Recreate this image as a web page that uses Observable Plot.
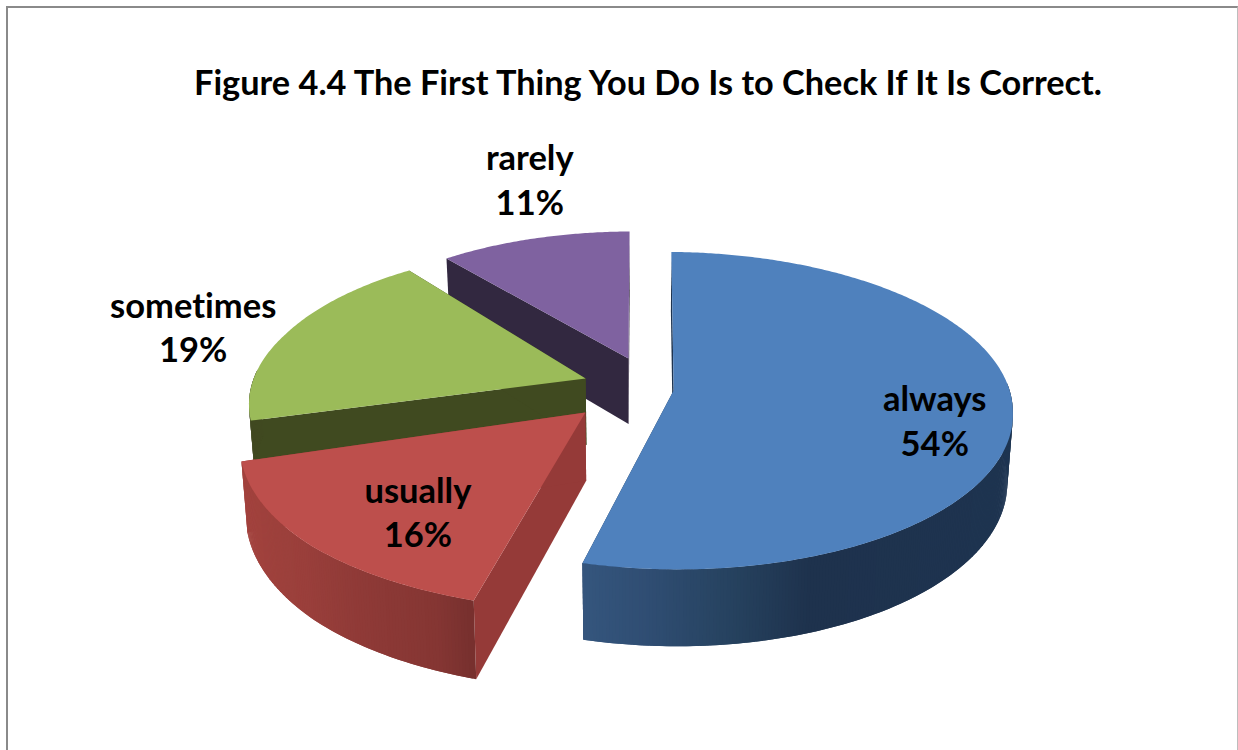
<!DOCTYPE html>
<html>
<head>
<meta charset="utf-8">
<script src="https://cdn.jsdelivr.net/npm/d3@7"></script>
<script src="https://cdn.jsdelivr.net/npm/@observablehq/plot@0.6"></script>
<style>
html,body{margin:0;padding:0;background:#fff;overflow:hidden}
#chart{position:relative;width:1238px;height:750px}
#chart svg{display:block}
#chart svg text{font-variant-ligatures:none}
#edge{position:absolute;left:6px;top:6px;width:1229px;height:760px;border-left:2px solid #8a8a8a;border-top:2px solid #8a8a8a;border-right:1px solid #bdbdbd;box-sizing:content-box;pointer-events:none}
</style>
</head>
<body>
<div id="chart"><div id="edge"></div></div>
<script>
const chartTitle = "Figure 4.4 The First Thing You Do Is to Check If It Is Correct.";
const categories = ["always", "usually", "sometimes", "rarely"];
const percents = [54, 16, 19, 11];

// styling and layout of each slice (same order as categories)
const topColors = ["#4f81bd", "#bd4f4c", "#9bbb59", "#7f62a0"];
const sideColors = ["#1e3450", "#953a38", "#404a20", "#322840"];
const wallStops = [[194.7, 184, 172, 160, 90], [254, 225, 213, 200, 194.8], [330, 254], [361, 320]];
const wallColors = [
  ["#35567e", "#2f4d72", "#26425f", "#1e324d", "#1e3552"],
  ["#a5443f", "#9a3f3b", "#8f3a37", "#853633", "#77302e"],
  ["#404a20", "#404a20"],
  ["#322840", "#322840"]
];
const explodeU = [0.157, -0.102, -0.104, 0.024];
const explodeD = [-0.032, 0.107, -0.110, -0.243];
const angleNudge = [[0.7, 0.3], [0.4, 1], [2.5, 2.5], [0.6, 0.4]];
const rimRadius = [[1.005, 0.991, 1.007], [1.05, 1.03, 1.0], [0.998, 0.98, 0.975], [0.953, 0.958, 0.964]];
const labelU = [0.907, -0.545, -1.332, -0.324];
const labelD = [0.147, 0.672, -0.472, -1.685];

// perspective of the pie plane
const persp = 0.127, depth = 0.43, taper = 0.985, taperX = 0.059;
const project = (u, d) => { const p = 1 / (1 - persp * d); return {x: u * p, y: d * p, p}; };
const lower = (pt) => ({x: taperX + (pt.x - taperX) * taper, y: pt.y + depth * pt.p});

const polygons = [];
const addPoly = (id, color, pts) => pts.forEach(q => polygons.push({poly: id, color, x: q.x, y: q.y}));

let cum = 0;
const slices = categories.map((name, i) => {
  const a0 = cum * 3.6 + angleNudge[i][0]; cum += percents[i]; const a1 = cum * 3.6 + angleNudge[i][1];
  return {name, i, a0, a1};
});

const rim = (s, f) => {
  const t = (s.a0 + (s.a1 - s.a0) * f) * Math.PI / 180;
  const r = d3.scaleLinear().domain([0, 0.5, 1]).range(rimRadius[s.i])(f);
  return project(explodeU[s.i] + r * Math.sin(t), explodeD[s.i] - r * Math.cos(t));
};

// painter's order: far slices first
[3, 2, 1, 0].forEach(i => {
  const s = slices[i];
  const apex = project(explodeU[i], explodeD[i]);
  const shade = d3.scaleLinear().domain(wallStops[i]).range(wallColors[i]).interpolate(d3.interpolateRgb).clamp(true);
  // the two straight cut walls
  [0, 1].forEach(f => {
    const R = rim(s, f);
    addPoly(`c${i}-${f}`, sideColors[i], [apex, R, lower(R), lower(apex)]);
  });
  // outer wall: viewer-facing strips, each overlapping the next so no seams show
  const n = Math.round((s.a1 - s.a0) * 2);
  for (let k = n - 1; k >= 0; k--) {
    const a = k / n, b = Math.min(1, (k + 2) / n);
    const deg = s.a0 + (s.a1 - s.a0) * (k + 0.5) / n;
    if (Math.cos(deg * Math.PI / 180) > 0.05) continue;
    const A = rim(s, a), B = rim(s, b);
    addPoly(`w${i}-${k}`, d3.rgb(shade(deg)).formatHex(), [A, B, lower(B), lower(A)]);
  }
  // the top face
  const top = [apex];
  for (let k = 0; k <= n; k++) top.push(rim(s, k / n));
  addPoly(`t${i}`, topColors[i], top);
});

const labels = slices.map(s => {
  const q = project(labelU[s.i], labelD[s.i]);
  return {x: q.x, y: q.y, text: `${s.name}\n${percents[s.i]}%`};
});

const fontFamily = "Lato, 'Open Sans', sans-serif";
const chart = Plot.plot({
  width: 1238, height: 750,
  margin: 0,
  x: {axis: null, domain: [-620 / 340, 618 / 340], range: [0, 1238]},
  y: {axis: null, domain: [-395 / 156.7, 355 / 156.7], range: [0, 750]},
  color: {type: "identity"},
  style: {background: "transparent", fontFamily},
  marks: [
    Plot.line(polygons, {x: "x", y: "y", z: "poly", fill: "color", stroke: "none", curve: "linear-closed"}),
    Plot.text(labels, {x: "x", y: "y", text: "text", fontSize: 34.5, fontWeight: 700, fill: "#000", lineHeight: 1.3, fontFamily}),
    Plot.text([chartTitle], {frameAnchor: "top-left", dx: 193.5, dy: 70, text: d => d, fontSize: 34.3, fontWeight: 700, fill: "#000", fontFamily})
  ]
});
document.getElementById("chart").prepend(chart);
</script>
</body>
</html>
